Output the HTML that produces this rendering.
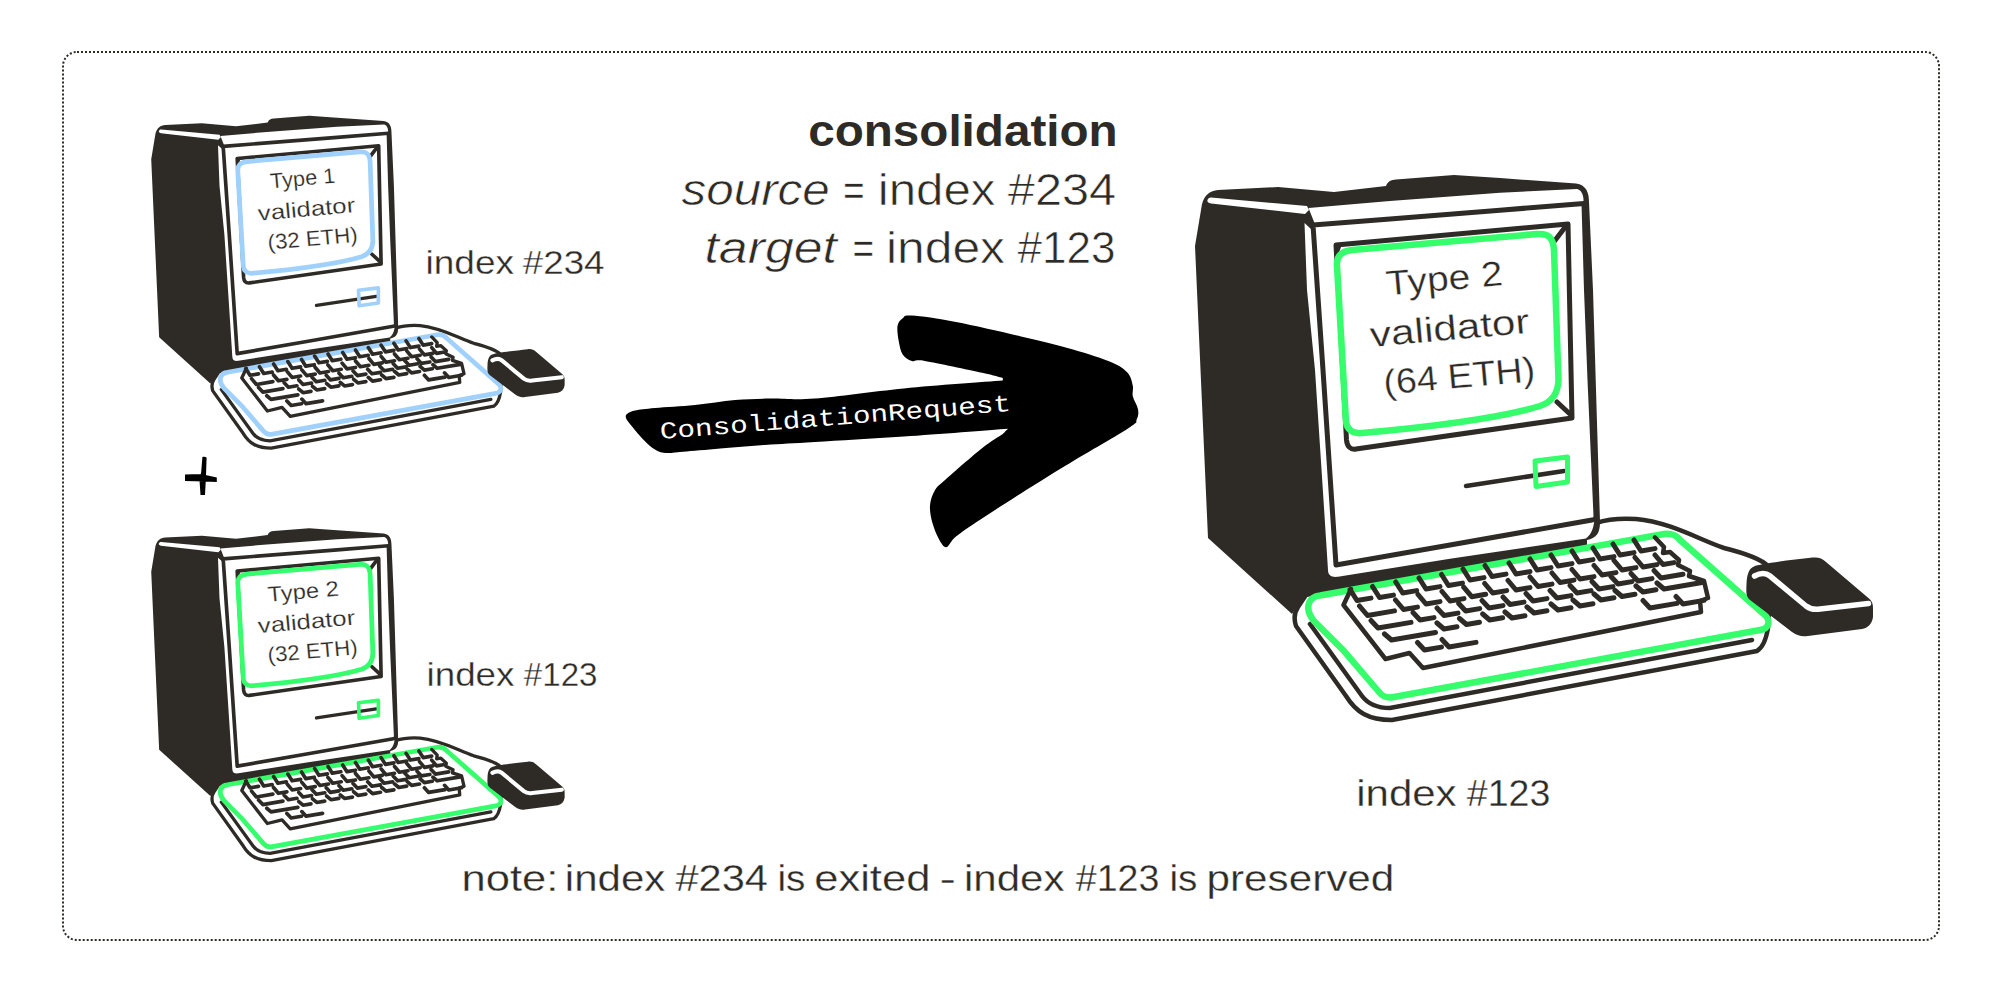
<!DOCTYPE html>
<html><head><meta charset="utf-8">
<style>
html,body{margin:0;padding:0;background:#fff;width:2000px;height:1000px;overflow:hidden}
svg{display:block}
text{font-family:"Liberation Sans",sans-serif;fill:#2e2b27;stroke:#fff;stroke-width:0.3px}
text[font-size="43.5"]{stroke-width:0.6px}
.mono{stroke:none}
text[font-weight=bold]{stroke:none}
.mono{font-family:"Liberation Mono",monospace;fill:#fff}
</style></head>
<body>
<svg width="2000" height="1000" viewBox="0 0 2000 1000">
<defs>
<g id="comp">
  <!-- keyboard body -->
  <path fill="#fff" stroke="#2e2b27" style="stroke-width:calc(4.5px * var(--sw,1))" stroke-linejoin="round" d="M1306,595 L1298,607 C1294,613 1294,620 1296,626 L1346,696 C1356,712 1368,720 1392,720 L1757,651 C1762,648 1766,640 1768,628 L1770,590 L1768,566 C1760,558 1740,552 1724,548 C1700,540 1670,522 1636,519 C1620,518 1605,520 1596,523 Z"/>
  <!-- case silhouette -->
  <path fill="#2e2b27" d="M1195,246 L1202,204 C1205,194 1210,191 1218,190 L1278,187 L1334,192 L1386,186 C1388,181 1391,180 1396,179.5 L1454,175 L1500,178 L1576,183.5 C1586,185 1589,192 1589,202 L1593,290 L1600,522 C1600,534 1596,538 1587,540 L1587,547 L1450,571 L1390,581 L1338,590 L1318,594 L1303,597 L1292,614 L1208,538 Z"/>
  <!-- top strip -->
  <path fill="#fff" d="M1308.5,208 L1390,201 L1500,192.8 L1577,189 C1581,190 1583.5,194 1583.5,200 L1583.5,210 L1316,228 L1314.5,223 Z"/>
  <!-- bezel white -->
  <path fill="#fff" d="M1304.5,223 L1311,229 L1330,245 L1590,500 L1594.5,516 C1594.5,526 1592,534 1586,538.4 L1450,558.8 L1338,576.8 C1331,577.5 1328,575 1328,570 L1323.5,500 L1315,370 L1307,290 Z"/>
  <!-- front face -->
  <path fill="#fff" stroke="#2e2b27" style="stroke-width:calc(5px * var(--sw,1))" stroke-linejoin="round" d="M1313,225 L1390,219 L1500,210.2 L1584,203.5 L1586.5,290 L1590,380 L1596,516 C1596,519 1594,520 1592,520 L1450,545 L1336,565 L1323,370 Z"/>
  <!-- highlight -->
  <path fill="#fff" d="M1211,197.5 L1307,206 L1309,210 L1305,214 L1211,203.5 C1208,203 1207,201.5 1207.5,200 C1208,198.5 1209,197.5 1211,197.5 Z"/>
  <!-- screen frame -->
  <path fill="#fff" stroke="#2e2b27" style="stroke-width:calc(5px * var(--sw,1))" stroke-linejoin="round" d="M1336,245 L1568,224 L1572,418 L1356,449 C1350,450 1347,446 1346.5,440 Z"/>
  <path fill="none" stroke="#2e2b27" style="stroke-width:calc(5px * var(--sw,1))" stroke-linecap="round" d="M1566,226 L1553,243 M1571,415 L1557,402"/>
  <path fill="#2e2b27" d="M1336,245 L1342,244.5 L1336.5,259 Z"/>
  <!-- floppy -->
  <path fill="none" stroke="#2e2b27" style="stroke-width:calc(4.5px * var(--sw,1))" stroke-linecap="round" d="M1466,486 L1564,471"/>
  <path fill="none" stroke="var(--acc)" style="stroke-width:calc(5px * var(--sw,1))" stroke-linejoin="round" d="M1535,461 L1567.5,457 L1567.5,482 L1536,486.5 Z"/>
  <!-- screen green rect -->
  <path fill="none" stroke="var(--acc)" style="stroke-width:calc(6.5px * var(--sw,1))" d="M1352,250 L1537,234 C1549,233 1553,238 1554,250 L1558.5,380 C1558,394 1552,402 1540,406 C1500,418 1440,426 1362,433 C1352,434 1347,429 1346,422 L1337,266 C1336,256 1342,251 1352,250 Z"/>
  <!-- keyboard inner line -->
  <path fill="none" stroke="#2e2b27" style="stroke-width:calc(4.5px * var(--sw,1))" stroke-linecap="round" d="M1310,624 L1362,696 C1368,704 1376,708 1390,708 L1752,640"/>
  <!-- keyboard green rect -->
  <path fill="none" stroke="var(--acc)" style="stroke-width:calc(6.5px * var(--sw,1))" d="M1320,595.5 L1664,534 C1672,533 1676,535 1680,540 L1766,616 C1771,622 1768,629 1760,630 L1394,697 C1387,698.5 1383,697 1379,692 L1343,650 L1314,621 C1309,615 1307,609 1309,603 C1311,598 1315,596 1320,595.5 Z"/>
  <!-- key block -->
  <path fill="none" stroke="#2e2b27" style="stroke-width:calc(4.5px * var(--sw,1))" stroke-linejoin="round" stroke-linecap="round" d="M1351,589 L1343.5,605 L1385.5,659 L1409.5,653 L1423,668 L1701,612 L1700,601 L1708,598 L1704,581 L1689,576 L1690,571 L1678,565 L1679,560 L1670,552 L1663,553 L1664,547 L1655,537.5"/>
  <path fill="none" stroke="#2e2b27" style="stroke-width:calc(5px * var(--sw,1))" stroke-linejoin="round" stroke-linecap="round" d="M1350.0,589.5L1357.0,600.5l14.0,-2.4M1372.5,586.5L1379.5,597.5l14.0,-2.4M1395.7,582.0L1402.7,593.0l14.0,-2.4M1419.0,578.0L1426.0,589.0l14.0,-2.4M1441.5,574.5L1448.5,585.5l14.0,-2.4M1463.0,569.0L1470.0,580.0l14.0,-2.4M1485.0,565.5L1492.0,576.5l14.0,-2.4M1509.0,563.0L1516.0,574.0l14.0,-2.4M1530.0,559.0L1537.0,570.0l14.0,-2.4M1551.0,555.0L1558.0,566.0l14.0,-2.4M1572.0,551.0L1579.0,562.0l14.0,-2.4M1593.0,548.0L1600.0,559.0l14.0,-2.4M1613.0,544.0L1620.0,555.0l14.0,-2.4M1634.0,540.0L1641.0,551.0l14.0,-2.4M1359.5,606.0L1367.5,615.5l27.0,-4.6M1395.5,600.0L1403.5,609.5l14.0,-2.4M1418.0,594.5L1426.0,604.0l14.0,-2.4M1442.0,591.5L1450.0,601.0l14.0,-2.4M1463.7,587.2L1471.7,596.7l14.0,-2.4M1484.7,583.5L1492.7,593.0l14.0,-2.4M1508.0,580.5L1516.0,590.0l14.0,-2.4M1530.0,577.0L1538.0,586.5l14.0,-2.4M1552.0,573.0L1560.0,582.5l14.0,-2.4M1572.0,569.5L1580.0,579.0l14.0,-2.4M1594.0,565.5L1602.0,575.0l14.0,-2.4M1614.0,560.5L1622.0,570.0l14.0,-2.4M1635.0,557.5L1643.0,567.0l14.0,-2.4M1655.0,555.0L1663.0,564.5l11.0,-1.9M1371.0,620.5L1378.0,628.0l33.0,-5.6M1413.0,612.5L1420.0,620.0l14.0,-2.4M1437.0,608.0L1444.0,615.5l14.0,-2.4M1458.7,603.5L1465.7,611.0l14.0,-2.4M1482.0,600.5L1489.0,608.0l14.0,-2.4M1503.0,597.0L1510.0,604.5l14.0,-2.4M1526.0,593.5L1533.0,601.0l14.0,-2.4M1550.0,590.5L1557.0,598.0l14.0,-2.4M1570.0,585.5L1577.0,593.0l14.0,-2.4M1592.0,581.5L1599.0,589.0l14.0,-2.4M1611.0,576.5L1618.0,584.0l14.0,-2.4M1631.0,573.5L1638.0,581.0l14.0,-2.4M1654.0,570.5L1661.0,578.0l22.0,-3.7M1384.5,634.0L1391.5,640.0l44.0,-7.5M1437.0,623.0L1444.0,629.0l13.0,-2.2M1459.5,618.5L1466.5,624.5l13.0,-2.2M1482.7,614.0L1489.7,620.0l13.0,-2.2M1505.0,612.0L1512.0,618.0l13.0,-2.2M1527.0,607.0L1534.0,613.0l13.0,-2.2M1551.0,604.0L1558.0,610.0l13.0,-2.2M1573.0,600.0L1580.0,606.0l13.0,-2.2M1594.0,594.0L1601.0,600.0l13.0,-2.2M1615.0,590.5L1622.0,596.5l13.0,-2.2M1636.0,586.0L1643.0,592.0l13.0,-2.2M1657.0,583.0L1664.0,589.0l38.0,-6.5M1417.5,642.5L1424.5,650.0l17.0,-2.9M1442.0,639.5L1449.0,647.0l27.0,-4.6M1643.0,600.5L1650.0,608.0l27.0,-4.6M1676.0,596.5L1683.0,604.0l21.0,-3.6"/>
  <!-- mouse -->
  <path fill="#2e2b27" d="M1754,566.4 C1760,564 1790,560 1812.5,557.6 C1818,557 1822,558 1826,562 L1867.5,597.2 C1872,601 1873,603 1873,608 L1873,617 C1872,624 1868,628 1862,629 L1808,636 C1802,637 1798,636 1792,632 L1750,600 C1746.5,597 1746,594 1746.5,584 C1747,572 1750,568 1754,566.4 Z"/>
  <path fill="none" stroke="#fff" style="stroke-width:calc(5.5px * var(--sw,1))" stroke-linecap="round" stroke-linejoin="round" d="M1754.5,576 C1760,573 1765,572 1770,576 L1806,606 C1810,609 1814,610 1820,609 L1868.5,603.5"/>
</g>
</defs>
<rect x="63" y="52" width="1876" height="888" rx="14" ry="14" fill="none" stroke="#2e2b27" stroke-width="2" stroke-dasharray="2 2"/>

<use href="#comp" style="--acc:#36fd6b"/>
<use href="#comp" style="--acc:#a0d1fc;--sw:1.2" transform="translate(-577.44,9.15) scale(0.60976)"/>
<use href="#comp" style="--acc:#36fd6b;--sw:1.2" transform="translate(-577.44,421.65) scale(0.60976)"/>

<g class="scr">
<text transform="translate(1387,295.5) rotate(-5.1)" font-size="35" textLength="117" lengthAdjust="spacingAndGlyphs">Type 2</text>
<text transform="translate(1371,347) rotate(-5.1)" font-size="35" textLength="160" lengthAdjust="spacingAndGlyphs">validator</text>
<text transform="translate(1384.5,394.5) rotate(-5.1)" font-size="35" textLength="152" lengthAdjust="spacingAndGlyphs">(64 ETH)</text>
</g>
<g transform="translate(-577.44,9.15) scale(0.60976)">
<text transform="translate(1391,294) rotate(-5.1)" font-size="35" textLength="107" lengthAdjust="spacingAndGlyphs">Type 1</text>
<text transform="translate(1371,347) rotate(-5.1)" font-size="35" textLength="160" lengthAdjust="spacingAndGlyphs">validator</text>
<text transform="translate(1387,394.5) rotate(-5.1)" font-size="35" textLength="148" lengthAdjust="spacingAndGlyphs">(32 ETH)</text>
</g>
<g transform="translate(-577.44,421.65) scale(0.60976)">
<text transform="translate(1387,295.5) rotate(-5.1)" font-size="35" textLength="117" lengthAdjust="spacingAndGlyphs">Type 2</text>
<text transform="translate(1371,347) rotate(-5.1)" font-size="35" textLength="160" lengthAdjust="spacingAndGlyphs">validator</text>
<text transform="translate(1387,394.5) rotate(-5.1)" font-size="35" textLength="148" lengthAdjust="spacingAndGlyphs">(32 ETH)</text>
</g>

<text x="808.19" y="145.8" font-size="43.5" font-weight="bold" textLength="309.47" lengthAdjust="spacingAndGlyphs">consolidation</text>
<text x="681.50" y="204.8" font-size="43.5" font-style="italic" textLength="148.25" lengthAdjust="spacingAndGlyphs">source</text>
<text x="843.02" y="204.8" font-size="43.5" textLength="21.63" lengthAdjust="spacingAndGlyphs">=</text>
<text x="877.75" y="204.8" font-size="43.5" textLength="117.67" lengthAdjust="spacingAndGlyphs">index</text>
<text x="1007.81" y="204.8" font-size="43.5" textLength="108.39" lengthAdjust="spacingAndGlyphs">#234</text>
<text x="704.42" y="262.8" font-size="43.5" font-style="italic" textLength="132.58" lengthAdjust="spacingAndGlyphs">target</text>
<text x="852.62" y="262.8" font-size="43.5" textLength="21.63" lengthAdjust="spacingAndGlyphs">=</text>
<text x="885.91" y="262.8" font-size="43.5" textLength="119.12" lengthAdjust="spacingAndGlyphs">index</text>
<text x="1017.42" y="262.8" font-size="43.5" textLength="98.15" lengthAdjust="spacingAndGlyphs">#123</text>
<text x="461.52" y="890.8" font-size="36.7" textLength="96.89" lengthAdjust="spacingAndGlyphs">note:</text>
<text x="564.83" y="890.8" font-size="36.7" textLength="100.51" lengthAdjust="spacingAndGlyphs">index</text>
<text x="675.43" y="890.8" font-size="36.7" textLength="92.56" lengthAdjust="spacingAndGlyphs">#234</text>
<text x="777.45" y="890.8" font-size="36.7" textLength="27.95" lengthAdjust="spacingAndGlyphs">is</text>
<text x="814.17" y="890.8" font-size="36.7" textLength="116.24" lengthAdjust="spacingAndGlyphs">exited</text>
<text x="939.44" y="890.8" font-size="36.7" textLength="16.38" lengthAdjust="spacingAndGlyphs">-</text>
<text x="964.03" y="890.8" font-size="36.7" textLength="100.51" lengthAdjust="spacingAndGlyphs">index</text>
<text x="1075.85" y="890.8" font-size="36.7" textLength="83.42" lengthAdjust="spacingAndGlyphs">#123</text>
<text x="1169.45" y="890.8" font-size="36.7" textLength="27.95" lengthAdjust="spacingAndGlyphs">is</text>
<text x="1206.50" y="890.8" font-size="36.7" textLength="187.84" lengthAdjust="spacingAndGlyphs">preserved</text>
<text x="425.56" y="274" font-size="33.3" textLength="88.41" lengthAdjust="spacingAndGlyphs">index</text>
<text x="522.85" y="274" font-size="33.3" textLength="81.70" lengthAdjust="spacingAndGlyphs">#234</text>
<text x="426.57" y="686" font-size="33.3" textLength="87.89" lengthAdjust="spacingAndGlyphs">index</text>
<text x="523.87" y="686" font-size="33.3" textLength="73.61" lengthAdjust="spacingAndGlyphs">#123</text>
<text x="1356.23" y="805.8" font-size="37.5" textLength="100.40" lengthAdjust="spacingAndGlyphs">index</text>
<text x="1466.85" y="805.8" font-size="37.5" textLength="83.53" lengthAdjust="spacingAndGlyphs">#123</text>

<path fill="#000" d="M202.4,457 C204,456.6 205.5,456.6 206.6,457.6 L206,476 L205,495 L200.5,495 L199.5,480 L201.2,472 Z M185,474.5 L201,474 L216.8,477.5 L216.8,482 L205,481.5 L185,481 Z"/>

<path fill="#000" d="M626.0,418.0C626.5,419.7 627.7,421.0 630.0,424.0C632.3,427.0 636.7,432.3 640.0,436.0C643.3,439.7 646.7,443.3 650.0,446.0C653.3,448.7 656.7,450.8 660.0,452.0C663.3,453.2 666.7,453.0 670.0,453.0C673.3,453.0 672.5,452.7 680.0,452.0C687.5,451.3 700.8,450.2 715.0,449.0C729.2,447.8 748.3,446.2 765.0,445.0C781.7,443.8 791.8,443.4 815.0,442.0C838.2,440.6 871.8,438.7 904.0,436.5C936.2,434.3 990.7,430.0 1008.0,428.7C1007.1,429.6 1003.7,433.0 1002.8,433.9C999.3,436.3 991.5,440.6 982.0,448.2C972.5,455.8 953.4,472.5 945.6,479.4C937.8,486.3 937.8,485.5 935.2,489.8C932.6,494.1 930.4,499.8 930.0,505.4C929.6,511.0 930.9,517.5 932.6,523.6C934.3,529.7 938.0,537.9 940.4,541.8C942.8,545.7 944.3,547.9 946.9,547.0C949.5,546.1 950.1,541.4 956.0,536.6C961.9,531.8 964.7,529.7 982.0,518.4C999.3,507.1 1035.7,483.9 1060.0,469.0C1084.3,454.1 1114.8,436.9 1127.6,428.7C1140.4,420.5 1135.0,422.9 1136.7,419.6C1138.4,416.4 1138.7,413.1 1138.0,409.2C1137.3,405.3 1133.7,400.1 1132.8,396.2C1131.9,392.3 1133.7,389.7 1132.8,385.8C1131.9,381.9 1131.1,376.7 1127.6,372.8C1124.1,368.9 1121.1,366.3 1112.0,362.4C1102.9,358.5 1088.2,353.7 1073.0,349.4C1057.8,345.1 1040.5,341.0 1021.0,336.4C1001.5,331.8 974.2,325.5 956.0,322.0C937.8,318.5 920.7,316.2 911.8,315.6C902.9,315.0 905.1,316.5 902.7,318.2C900.3,319.9 898.1,322.1 897.5,326.0C896.9,329.9 897.9,336.8 898.8,341.6C899.7,346.4 900.5,351.4 902.7,354.6C904.9,357.8 908.1,359.9 911.8,361.0C915.5,362.1 913.1,359.0 924.8,361.0C936.5,363.0 969.0,370.0 982.0,372.8C995.0,375.6 999.3,377.1 1002.8,378.0C1002.8,378.4 1002.8,380.2 1002.8,380.6C986.3,381.9 935.3,385.4 904.0,388.4C872.7,391.4 837.3,396.8 815.0,398.5C792.7,400.2 783.3,398.2 770.0,398.5C756.7,398.8 747.5,398.9 735.0,400.0C722.5,401.1 708.3,403.7 695.0,405.0C681.7,406.3 665.0,407.1 655.0,408.0C645.0,408.9 639.7,409.5 635.0,410.5C630.3,411.5 628.5,412.8 627.0,414.0C625.5,415.2 625.5,416.3 626.0,418.0Z"/>
<text class="mono" transform="translate(660.5,439) rotate(-4.6)" font-size="24" textLength="352" lengthAdjust="spacingAndGlyphs">ConsolidationRequest</text>
</svg>
</body></html>
